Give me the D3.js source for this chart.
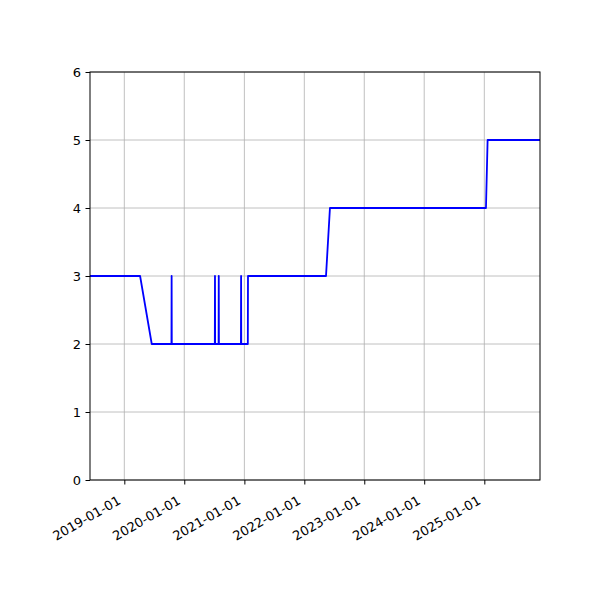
<!DOCTYPE html>
<html><head><meta charset="utf-8">
<script src="https://cdn.jsdelivr.net/npm/d3@7"></script>
<style>body{margin:0;background:#fff}</style>
</head><body>
<div id="chart"></div>
<script>
const dates = ["2018-06-06","2019-04-07","2019-06-17","2019-10-15","2019-10-16","2019-10-17",
  "2020-07-05","2020-07-06","2020-07-07","2020-07-28","2020-07-29","2020-07-30",
  "2020-12-11","2020-12-12","2020-12-13","2021-01-22","2021-01-23",
  "2022-05-13","2022-06-06","2025-01-11","2025-01-21","2025-12-06"];
const values = [3,3,2,2,3,2,
  2,3,2,2,3,2,
  2,3,2,2,3,
  3,4,4,5,5];
const xTickLabels = ["2019-01-01","2020-01-01","2021-01-01","2022-01-01","2023-01-01","2024-01-01","2025-01-01"];
const yTicks = [0,1,2,3,4,5,6];

const W=600,H=600, m={l:90,r:60,t:72,b:120};
const parse=d3.utcParse("%Y-%m-%d");
const data=dates.map((d,i)=>({d:parse(d),v:values[i]}));
const svg=d3.select("#chart").append("svg").attr("width",W).attr("height",H)
  .style("font-family","DejaVu Sans");
const x=d3.scaleUtc().domain([parse("2018-06-06"),parse("2025-12-06")]).range([m.l,W-m.r]);
const y=d3.scaleLinear().domain([0,6]).range([H-m.b,m.t]);
const tickDates=xTickLabels.map(parse);
// grid
svg.append("g").selectAll("line").data(tickDates).join("line")
  .attr("x1",d=>x(d)).attr("x2",d=>x(d)).attr("y1",m.t).attr("y2",H-m.b)
  .attr("stroke","#b0b0b0").attr("stroke-width",0.8);
svg.append("g").selectAll("line").data(yTicks).join("line")
  .attr("x1",m.l).attr("x2",W-m.r).attr("y1",d=>y(d)).attr("y2",d=>y(d))
  .attr("stroke","#b0b0b0").attr("stroke-width",0.8);
// line
svg.append("path").datum(data).attr("fill","none").attr("stroke","#0000ff").attr("stroke-width",1.8)
  .attr("stroke-linejoin","round")
  .attr("d",d3.line().x(d=>x(d.d)).y(d=>y(d.v)));
// frame
svg.append("rect").attr("x",m.l).attr("y",m.t).attr("width",W-m.l-m.r).attr("height",H-m.t-m.b)
  .attr("fill","none").attr("stroke","#000").attr("stroke-width",1);
// x axis
const xAxis=d3.axisBottom(x).tickValues(tickDates).tickSize(4.5).tickFormat(d3.utcFormat("%Y-%m-%d"));
const gx=svg.append("g").attr("transform",`translate(0,${H-m.b})`).call(xAxis);
gx.select(".domain").remove();
gx.selectAll(".tick line").attr("stroke","#000");
gx.selectAll(".tick text").attr("fill","#000").style("font-size","13px").style("font-family","DejaVu Sans")
  .attr("text-anchor","end").attr("x",0).attr("y",0).attr("dy","0.73em")
  .attr("transform","translate(-8,15) rotate(-30)");
// y axis
const yAxis=d3.axisLeft(y).tickValues(yTicks).tickSize(4.5).tickFormat(d3.format("d"));
const gy=svg.append("g").attr("transform",`translate(${m.l},0)`).call(yAxis);
gy.select(".domain").remove();
gy.selectAll(".tick line").attr("stroke","#000");
gy.selectAll(".tick text").attr("fill","#000").attr("x",-9).style("font-size","13px").style("font-family","DejaVu Sans");
</script>
</body></html>
